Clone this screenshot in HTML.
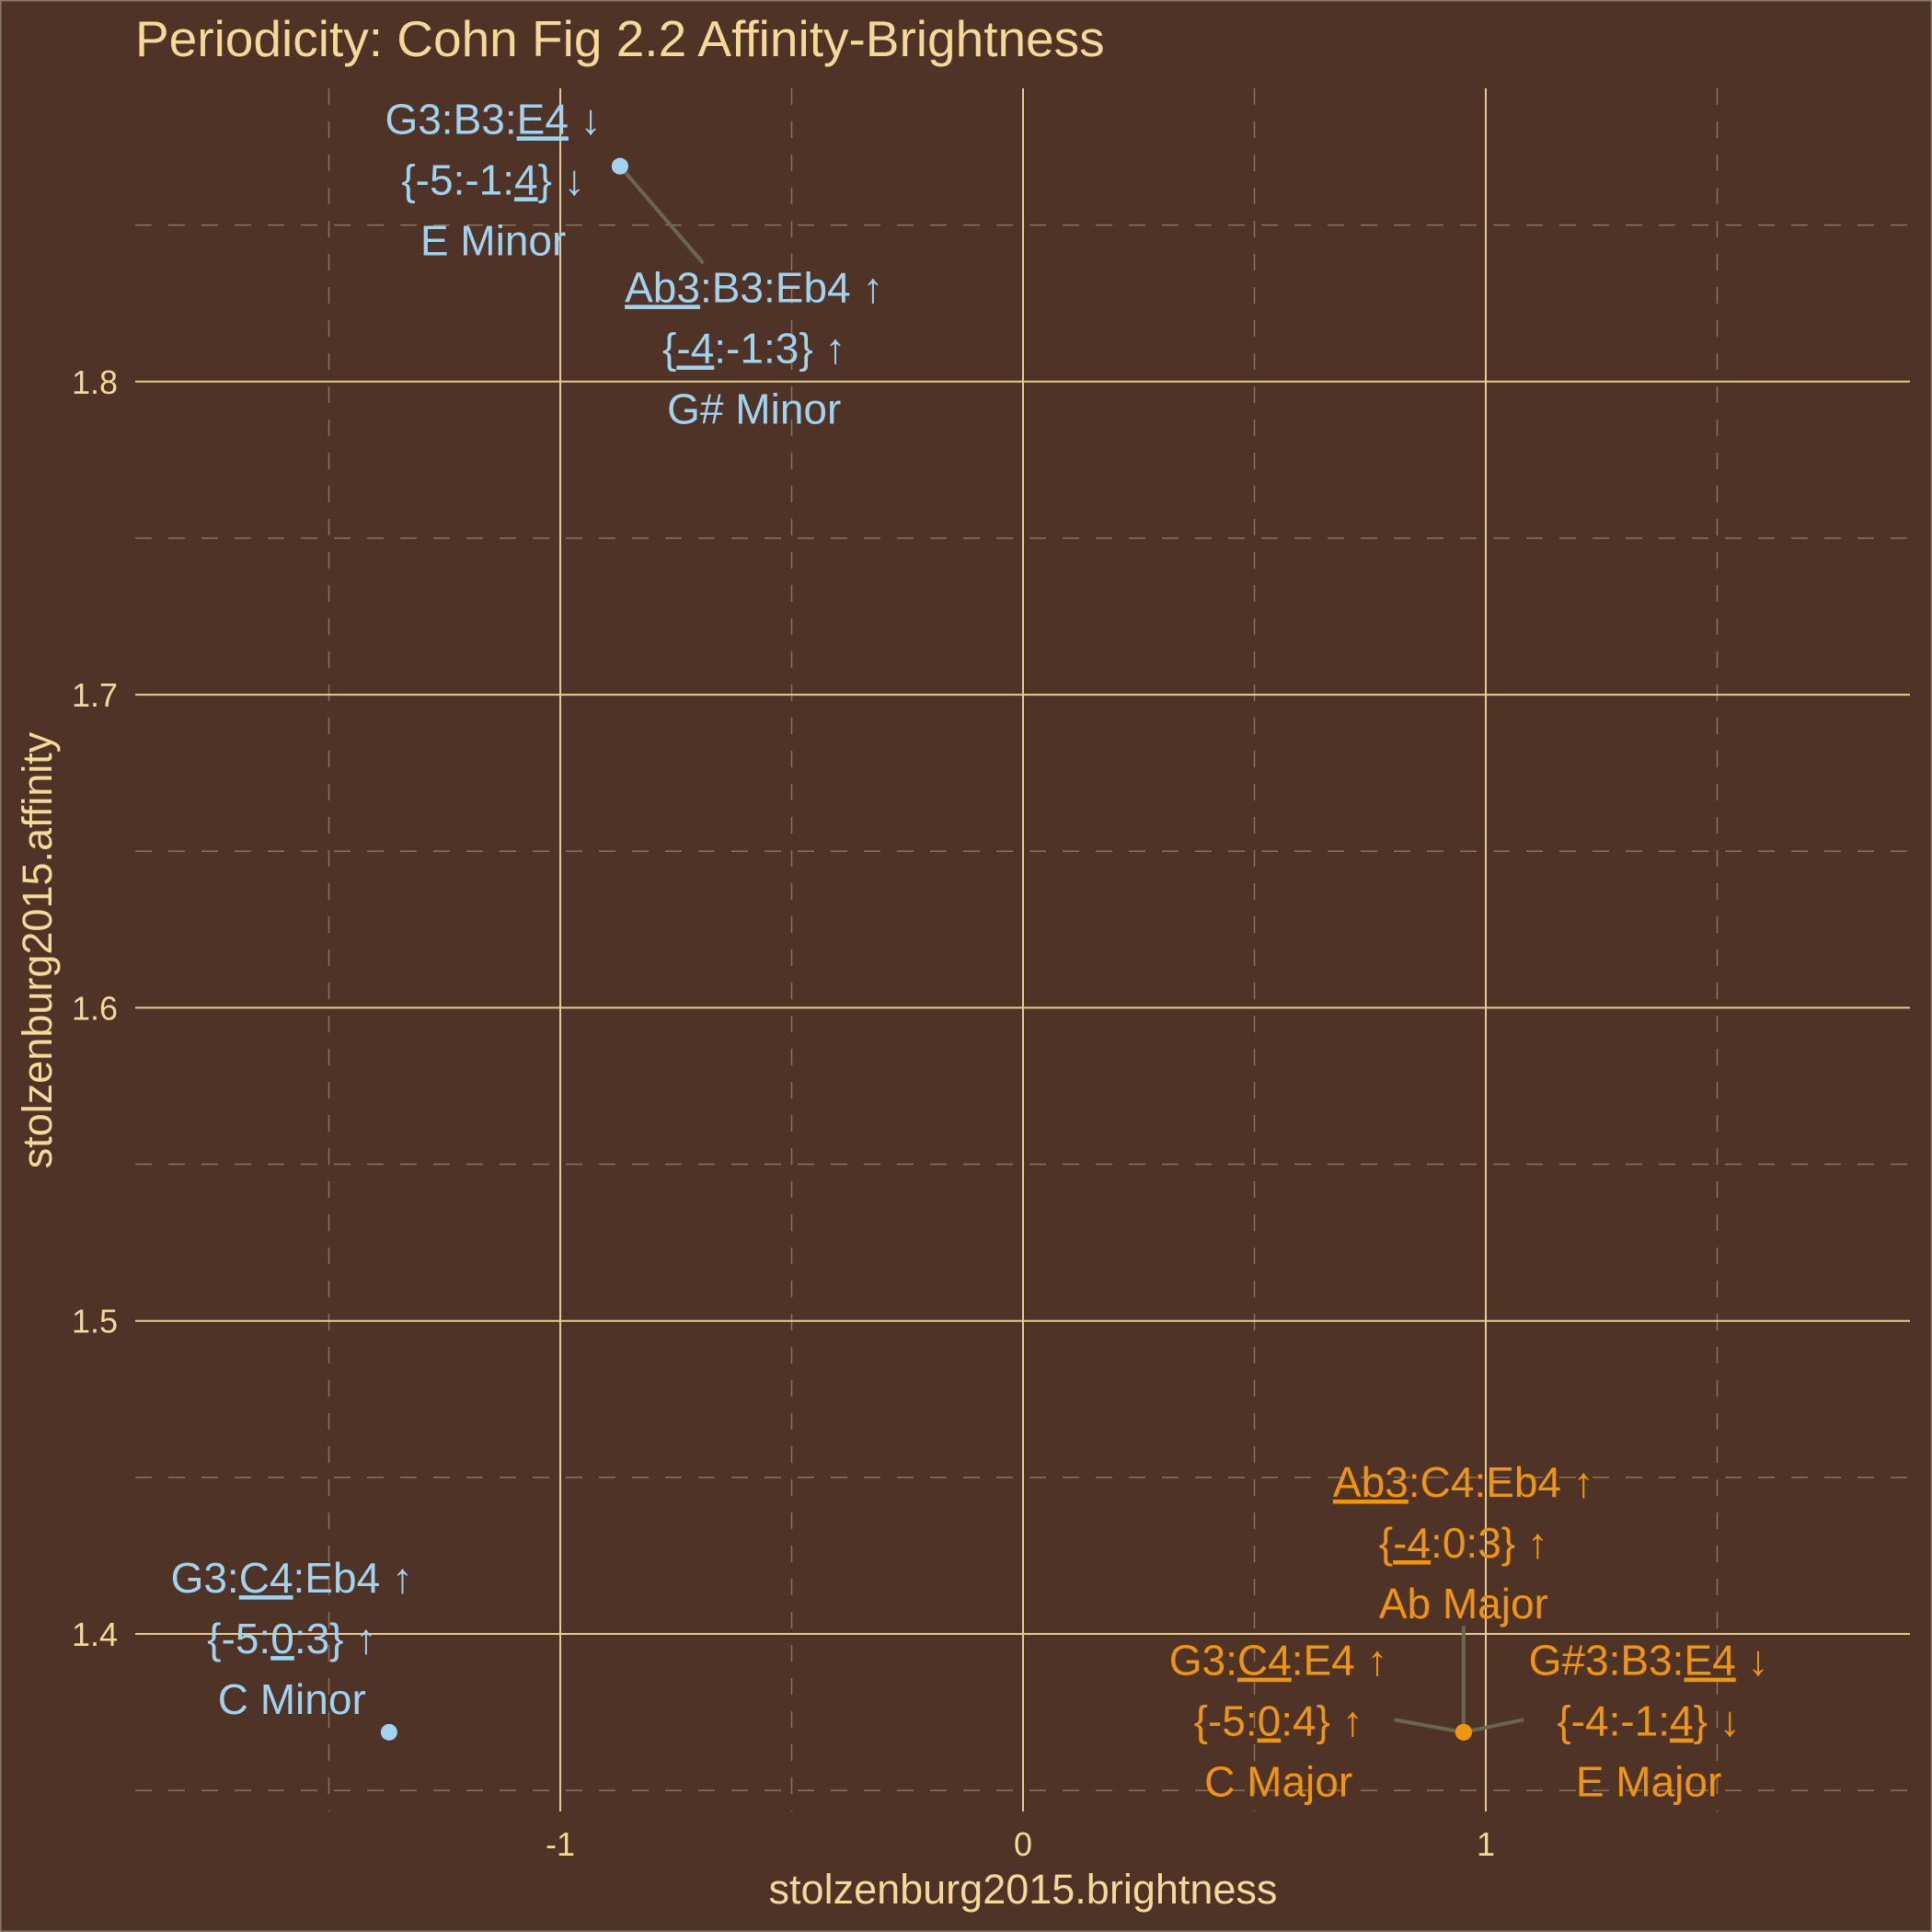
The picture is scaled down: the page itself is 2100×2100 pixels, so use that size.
<!DOCTYPE html>
<html><head><meta charset="utf-8"><style>
html,body{margin:0;padding:0;background:#4f3327;}
svg{display:block;font-family:"Liberation Sans",sans-serif;}
</style></head><body>
<svg id="chart" width="2100" height="2100" viewBox="0 0 2100 2100">
<rect x="0" y="0" width="2100" height="2100" fill="#4f3327" stroke="#8a7a6a" stroke-width="3"/>
<text x="147" y="61" font-size="55" fill="#f5d99a">Periodicity: Cohn Fig 2.2 Affinity-Brightness</text>
<g id="grid"></g>
<g id="axes"></g>
<g id="marks"></g>
<text x="1112" y="2069" font-size="45" fill="#f5d99a" text-anchor="middle">stolzenburg2015.brightness</text>
<text transform="translate(56,1033) rotate(-90)" font-size="45" fill="#f5d99a" text-anchor="middle">stolzenburg2015.affinity</text>
</svg>
<script>
const xTicks = [-1, 0, 1];
const xTickLabels = ["-1", "0", "1"];
const xMinor = [-1.5, -0.5, 0.5, 1.5];
const yTicks = [1.4, 1.5, 1.6, 1.7, 1.8];
const yTickLabels = ["1.4", "1.5", "1.6", "1.7", "1.8"];
const yMinor = [1.35, 1.45, 1.55, 1.65, 1.75, 1.85];
const brightness = [-0.871, -0.871, -1.370, 0.952, 0.952, 0.952];
const affinity = [1.8688, 1.8688, 1.3686, 1.3686, 1.3686, 1.3686];
const groups = ["minor", "minor", "minor", "major", "major", "major"];
const labelLine1 = ["G3:B3:_E4_ ↓", "_Ab3_:B3:Eb4 ↑", "G3:_C4_:Eb4 ↑", "_Ab3_:C4:Eb4 ↑", "G3:_C4_:E4 ↑", "G#3:B3:_E4_ ↓"];
const labelLine2 = ["{-5:-1:_4_} ↓", "{_-4_:-1:3} ↑", "{-5:_0_:3} ↑", "{_-4_:0:3} ↑", "{-5:_0_:4} ↑", "{-4:-1:_4_} ↓"];
const labelLine3 = ["E Minor", "G# Minor", "C Minor", "Ab Major", "C Major", "E Major"];
const labelDx = [-0.274, 0.29, -0.21, 0, -0.40, 0.40];
const labelDy = [-0.009, -0.0628, 0.0252, 0.0558, -0.0011, -0.0011];
const segEndDx = [0.18, 0, 0, 0, -0.15, 0.13];
const segEndDy = [-0.031, 0, 0, 0.0340, 0.004, 0.004];

const L=147,R=2076,T=96,B=1969;
const xs = v => 1112 + v*503;
const ys = v => 1776 - (v-1.4)*3403;
const NS="http://www.w3.org/2000/svg";
function mk(tag, parent){const e=document.createElementNS(NS,tag);parent.appendChild(e);return e;}
const grid=document.getElementById('grid'), axes=document.getElementById('axes'), marks=document.getElementById('marks');

yMinor.forEach(v=>{const l=mk('line',grid);


l.setAttribute('x1',L);l.setAttribute('x2',R);l.setAttribute('y1',ys(v));l.setAttribute('y2',ys(v));
l.setAttribute('stroke','#8f7258');l.setAttribute('stroke-width','1.5');l.setAttribute('stroke-dasharray','18,18');});
xMinor.forEach(v=>{const l=mk('line',grid);


l.setAttribute('y1',T);l.setAttribute('y2',B);l.setAttribute('x1',xs(v));l.setAttribute('x2',xs(v));
l.setAttribute('stroke','#8f7258');l.setAttribute('stroke-width','1.5');l.setAttribute('stroke-dasharray','18,18');});
yTicks.forEach((v,i)=>{const l=mk('line',grid);


l.setAttribute('x1',L);l.setAttribute('x2',R);l.setAttribute('y1',ys(v));l.setAttribute('y2',ys(v));
l.setAttribute('stroke','#e6cc90');l.setAttribute('stroke-width','2');
const t=mk('text',axes);


t.setAttribute('x',128);t.setAttribute('y',ys(v)+13);t.setAttribute('text-anchor','end');
t.setAttribute('font-size','36');t.setAttribute('fill','#f5d99a');t.textContent=yTickLabels[i];});
xTicks.forEach((v,i)=>{const l=mk('line',grid);


l.setAttribute('y1',T);l.setAttribute('y2',B);l.setAttribute('x1',xs(v));l.setAttribute('x2',xs(v));
l.setAttribute('stroke','#e6cc90');l.setAttribute('stroke-width','2');
const t=mk('text',axes);


t.setAttribute('x',xs(v));t.setAttribute('y',2017);t.setAttribute('text-anchor','middle');
t.setAttribute('font-size','36');t.setAttribute('fill','#f5d99a');t.textContent=xTickLabels[i];});

function addLine(parent, str, x, y, color){
  const t=mk('text',parent);
  
  
  t.setAttribute('x',x);t.setAttribute('y',y);t.setAttribute('text-anchor','middle');
  t.setAttribute('font-size','46');t.setAttribute('fill',color);
  str.split('_').forEach((part,k)=>{ if(!part) return;
    const s=mk('tspan',t); s.textContent=part;
    if(k%2===1) s.setAttribute('text-decoration','underline');});
}
brightness.forEach((b,i)=>{
  const px=xs(b), py=ys(affinity[i]);
  if(segEndDx[i]!==0||segEndDy[i]!==0){
    const s=mk('line',marks);
    
    
    s.setAttribute('x1',px);s.setAttribute('y1',py);
    s.setAttribute('x2',xs(b+segEndDx[i]));s.setAttribute('y2',ys(affinity[i]+segEndDy[i]));
    s.setAttribute('stroke','#6b6650');s.setAttribute('stroke-width','4');
  }
});
brightness.forEach((b,i)=>{
  const color = groups[i]==='minor' ? '#9fd3f0' : '#f0960a';
  const px=xs(b), py=ys(affinity[i]);
  const c=mk('circle',marks);
  
  
  c.setAttribute('cx',px);c.setAttribute('cy',py);c.setAttribute('r',9);c.setAttribute('fill',color);
  const lx=xs(b+labelDx[i]), ly=ys(affinity[i]+labelDy[i]);
  const g=mk('g',marks);
  
  
  addLine(g,labelLine1[i],lx,ly-66,color);
  addLine(g,labelLine2[i],lx,ly,color);
  addLine(g,labelLine3[i],lx,ly+66,color);
});
</script>
</body></html>
